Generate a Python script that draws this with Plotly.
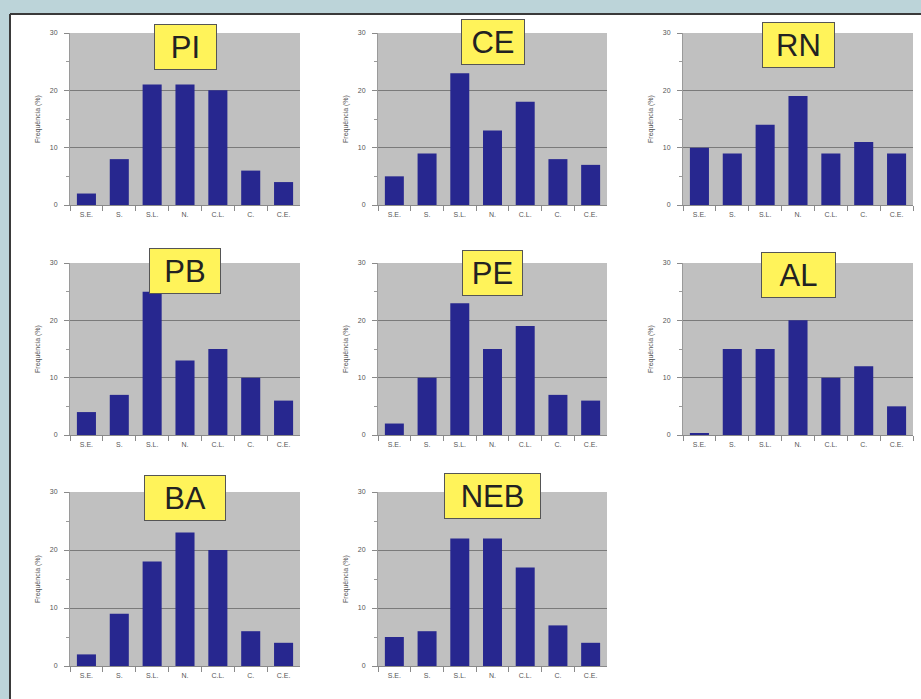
import plotly.graph_objects as go

categories = ["S.E.", "S.", "S.L.", "N.", "C.L.", "C.", "C.E."]
y_ticks = [0, 10, 20, 30]

panel_names = ["PI", "CE", "RN", "PB", "PE", "AL", "BA", "NEB"]
PI = [2, 8, 21, 21, 20, 6, 4]
CE = [5, 9, 23, 13, 18, 8, 7]
RN = [10, 9, 14, 19, 9, 11, 9]
PB = [4, 7, 25, 13, 15, 10, 6]
PE = [2, 10, 23, 15, 19, 7, 6]
AL = [0.2, 15, 15, 20, 10, 12, 5]
BA = [2, 9, 18, 23, 20, 6, 4]
NEB = [5, 6, 22, 22, 17, 7, 4]
panel_values = [PI, CE, RN, PB, PE, AL, BA, NEB]

y_title = "Frequência (%)"

W, H = 921, 699
col_px = [(70, 300), (378, 607), (683, 913)]
row_px = [(33, 205), (263, 435), (492, 666)]
# title box widths (px) and vertical offsets
box_w = [55, 56, 65, 64, 53, 67, 74, 89]
box_shift = [-14, -9, -12, -8, -10, -12, -6, -4]

fig = go.Figure()
layout = {}
annotations = []
font_family = "Liberation Sans, Arial, sans-serif"

for i, (name, vals) in enumerate(zip(panel_names, panel_values)):
    r, c = divmod(i, 3)
    k = i + 1
    xa = "xaxis" if k == 1 else f"xaxis{k}"
    ya = "yaxis" if k == 1 else f"yaxis{k}"
    xref = "x" if k == 1 else f"x{k}"
    yref = "y" if k == 1 else f"y{k}"
    fig.add_trace(go.Bar(x=categories, y=vals, xaxis=xref, yaxis=yref,
                         marker=dict(color="#27278f", line=dict(width=0)),
                         showlegend=False))
    x0, x1 = col_px[c]
    t, b = row_px[r]
    layout[xa] = dict(domain=[x0 / W, x1 / W], anchor=yref, automargin=False,
                      showline=True, linecolor="#8a8a8a", linewidth=1,
                      ticks="outside", tickson="boundaries", ticklen=5,
                      ticklabelstandoff=3,
                      tickcolor="#8a8a8a", tickfont=dict(size=7, color="#555"),
                      showgrid=False, fixedrange=True)
    layout[ya] = dict(domain=[1 - b / H, 1 - t / H], anchor=xref, automargin=False,
                      range=[0, 30], tickvals=y_ticks,
                      showline=True, linecolor="#9a9a9a", linewidth=1,
                      ticks="outside", ticklen=5, tickcolor="#8a8a8a",
                      ticklabelstandoff=5,
                      tickfont=dict(size=7, color="#555"),
                      showgrid=True, gridcolor="#7a7a7a", gridwidth=1,
                      zeroline=False,
                      minor=dict(dtick=5, ticks="outside", ticklen=3,
                                 tickcolor="#9a9a9a", showgrid=False),
                      title=dict(text=y_title, font=dict(size=7, color="#555"),
                                 standoff=8),
                      fixedrange=True)
    annotations.append(dict(text=name, xref=f"{xref} domain", yref=f"{yref} domain",
                            x=0.5, y=1, yanchor="middle", xanchor="center",
                            yshift=box_shift[i], showarrow=False,
                            width=box_w[i], height=38,
                            font=dict(size=31, color="#222", family=font_family),
                            bgcolor="#fff35a", bordercolor="#555", borderwidth=1,
                            borderpad=3))

shapes = [
    dict(type="rect", xref="paper", yref="paper", x0=0, x1=1, y0=1 - 14 / H, y1=1,
         fillcolor="#bcd4d9", line=dict(width=0), layer="below"),
    dict(type="rect", xref="paper", yref="paper", x0=0, x1=10 / W, y0=0, y1=1,
         fillcolor="#bcd4d9", line=dict(width=0), layer="below"),
    dict(type="line", xref="paper", yref="paper", x0=10 / W, x1=1, y0=1 - 14 / H, y1=1 - 14 / H,
         line=dict(color="#3a3a3a", width=2)),
    dict(type="line", xref="paper", yref="paper", x0=10 / W, x1=10 / W, y0=0, y1=1 - 14 / H,
         line=dict(color="#3a3a3a", width=2)),
]

fig.update_layout(width=W, height=H, margin=dict(l=0, r=0, t=0, b=0, autoexpand=False),
                  paper_bgcolor="white", plot_bgcolor="#c0c0c0",
                  bargap=0.42, font=dict(family=font_family),
                  hovermode=False,
                  annotations=annotations, shapes=shapes, **layout)

post = (
    "document.body.style.margin='0';document.body.style.padding='0';"
    "var gd=document.getElementById('{plot_id}');"
    "gd.style.position='absolute';gd.style.top='0px';gd.style.left='0px';"
)
fig.write_html("out.html", config={"displayModeBar": False}, post_script=post)
